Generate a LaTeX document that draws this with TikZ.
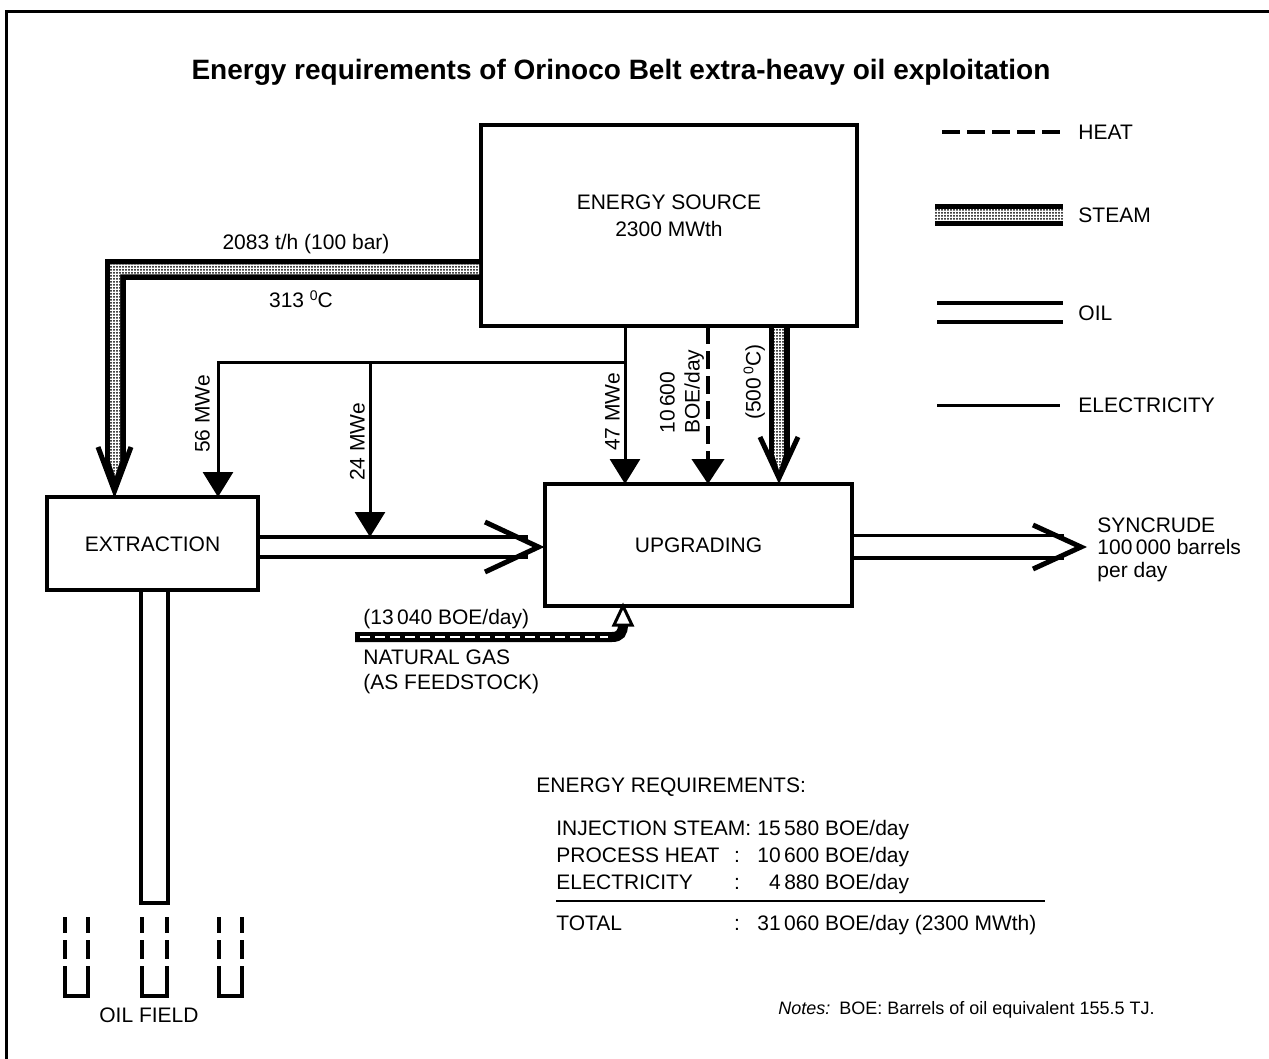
\documentclass[tikz,border=0pt]{standalone}
\usepackage{fontspec}
\setmainfont{Liberation Sans}
\usetikzlibrary{arrows.meta,patterns.meta}
\newcommand{\degz}{\raisebox{3.6pt}{\fontsize{7}{7}\selectfont 0}}
\begin{document}
\begin{tikzpicture}[x=0.5pt,y=-0.5pt,
  box/.style={draw,line width=2pt,inner sep=0pt,outer sep=0pt},
  t/.style={inner sep=0pt,font=\fontsize{10.5}{12}\selectfont,text height=7.5pt,text depth=0pt},
  ttl/.style={inner sep=0pt,font=\fontsize{14}{16}\selectfont\bfseries,text height=10pt,text depth=0pt},
  nt/.style={inner sep=0pt,font=\fontsize{9}{11}\selectfont,text height=6.5pt,text depth=0pt},
  elec/.style={line width=1.5pt,-{Triangle[width=15pt,length=12.5pt]}},
  heatline/.style={line width=2pt,dash pattern=on 9pt off 3.5pt},
  heatarr/.style={heatline,-{Triangle[width=16pt,length=12.5pt]}},
  oilline/.style={line width=1.6pt},
  vhead/.style={line width=2.5pt,miter limit=10},
  stip/.style={pattern={Dots[distance=1.5pt,radius=0.5pt]},preaction={fill=white}},
  stband/.style={line width=10.5pt},
  well/.style={line width=2pt},
  frame/.style={line width=1.5pt}
]
\useasboundingbox (0,0) rectangle (1269,1059);
\draw[frame] (6,1059) -- (6,12) -- (1269,12);

\node[ttl] (title) at (621,70) {Energy requirements of Orinoco Belt extra-heavy oil exploitation};

% boxes
\node[box,minimum width=188pt,minimum height=100.5pt] (esrc) at (669,225.5) {};
\node[t] (esrc1) at (669,202) {ENERGY SOURCE};
\node[t] (esrc2) at (669,229) {2300 MWth};
\node[box,t,minimum width=105.5pt,minimum height=46.5pt] (ext) at (152.5,543.5) {EXTRACTION};
\node[box,t,minimum width=153.5pt,minimum height=61pt] (upg) at (698.5,545) {UPGRADING};

% steam to extraction
\draw[stband] (esrc.west |- 0,269.5) -- (115,269.5) -- (115,462);
\path[stip] (479,264.5) -- (110,264.5) -- (110,462) -- (120,462) -- (120,274.5) -- (479,274.5) -- cycle;
\fill (104.5,462) -- (125.5,462) -- (115,488) -- cycle;
\path[stip] (110,461) -- (120,461) -- (115,476) -- cycle;
\coordinate (st1tip) at (114.5,491);
\draw[vhead] (98,447) -- (st1tip) -- (131,447);
\node[t] (lbl2083) at (306,242) {2083 t/h (100 bar)};
\node[t] (lbl313) at (301,300) {313 \degz C};

% steam to upgrading
\draw[stband] (779,0 |- esrc.south) -- (779,455);
\path[stip] (774,328) -- (784,328) -- (784,455) -- (774,455) -- cycle;
\fill (768.5,455) -- (789.5,455) -- (779,478) -- cycle;
\path[stip] (774,454) -- (784,454) -- (779,470) -- cycle;
\coordinate (st2tip) at (779,478);
\draw[vhead] (760,437) -- (st2tip) -- (798,437);
\node[t,rotate=90] (lbl500) at (753,382) {(500\,\degz C)};

% electricity
\draw[elec] (625,0 |- esrc.south) -- (625,0 |- upg.north);
\coordinate (ej) at (625,362);
\coordinate (oiltop) at (370,537);
\draw[elec] (ej) -- (218,362) -- (218,0 |- ext.north);
\draw[elec] (370,362) -- (oiltop);
\node[t,rotate=90] (lbl56) at (202,414) {56 MWe};
\node[t,rotate=90] (lbl24) at (357,442) {24 MWe};
\node[t,rotate=90] (lbl47) at (612,412) {47 MWe};

% heat
\draw[heatarr] (708,0 |- esrc.south) -- (708,0 |- upg.north);
\node[t,rotate=90,anchor=west] (lblh1) at (667,434) {10\,600};
\node[t,rotate=90,anchor=west] (lblh2) at (692,434) {BOE/day};

% oil extraction -> upgrading
\draw[oilline] (ext.east |- 0,537) -- (528,537);
\draw[oilline] (ext.east |- 0,557) -- (528,557);
\draw[vhead] (485,522) -- (538.5,547) -- (485,572);

% syncrude
\draw[oilline] (upg.east |- 0,535.5) -- (1064,535.5);
\draw[oilline] (upg.east |- 0,558) -- (1064,558);
\draw[vhead] (1033,525) -- (1081,547) -- (1033,569);
\node[t,anchor=west] (sc1) at (1097,525) {SYNCRUDE};
\node[t,anchor=west] (sc2) at (1097,547) {100\,000 barrels};
\node[t,anchor=west] (sc3) at (1097,570) {per day};

% oil well pipe
\draw[line width=1.8pt] (141,0 |- ext.south) -- (141,903) -- (168,903) -- (168,0 |- ext.south);
\foreach \a/\b in {65/88,142/167,219/242}{
  \draw[well] (\a,917) -- (\a,933) (\a,940) -- (\a,959) (\b,917) -- (\b,933) (\b,940) -- (\b,959);
  \draw[well] (\a,966) -- (\a,996) -- (\b,996) -- (\b,966);
}
\node[t] (oilfield) at (149,1015) {OIL FIELD};

% natural gas
\draw[line width=5pt] (355,637) -- (612,637) .. controls (620,637) and (623,633) .. (623,624);
\draw[white,line width=1.3pt,dash pattern=on 5pt off 2.5pt] (360,637) -- (608,637);
\draw[line width=1.5pt,fill=white] (614,625) -- (632,625) -- (623,0 |- upg.south) -- cycle;
\node[t,anchor=west] (gas1) at (363,617) {(13\,040 BOE/day)};
\node[t,anchor=west] (gas2) at (363,657) {NATURAL GAS};
\node[t,anchor=west] (gas3) at (363,682) {(AS FEEDSTOCK)};

% legend
\draw[heatline] (942,132) -- (1063,132);
\node[t,anchor=west] (lgh) at (1078,132) {HEAT};
\fill (935,204) rectangle (1063,226);
\path[stip] (935,209) rectangle (1063,221);
\node[t,anchor=west] (lgs) at (1078,215) {STEAM};
\draw[oilline] (937,303) -- (1063,303) (937,322) -- (1063,322);
\node[t,anchor=west] (lgo) at (1078,313) {OIL};
\draw[line width=1.5pt] (937,405) -- (1060,405);
\node[t,anchor=west] (lge) at (1078,405) {ELECTRICITY};

% table
\node[t,anchor=west] (er) at (536,785) {ENERGY REQUIREMENTS:};
\node[t,anchor=west] (r1) at (556,828) {INJECTION STEAM:};
\node[t,anchor=west] (v1) at (757,828) {15\,580 BOE/day};
\node[t,anchor=west] (r2) at (556,855) {PROCESS HEAT};
\node[t] (c2) at (737,855) {:};
\node[t,anchor=east] (v2) at (v1.east |- 0,855) {10\,600 BOE/day};
\node[t,anchor=west] (r3) at (556,882) {ELECTRICITY};
\node[t] (c3) at (737,882) {:};
\node[t,anchor=east] (v3) at (v1.east |- 0,882) {4\,880 BOE/day};
\draw[line width=1pt] (556,901) -- (1045,901);
\node[t,anchor=west] (r4) at (556,923) {TOTAL};
\node[t] (c4) at (737,923) {:};
\node[t,anchor=west] (v4) at (757,923) {31\,060 BOE/day (2300 MWth)};

\node[nt,anchor=west] (notes) at (778,1008) {\textit{Notes:}\enspace BOE: Barrels of oil equivalent 155.5 TJ.};
\end{tikzpicture}
\end{document}
